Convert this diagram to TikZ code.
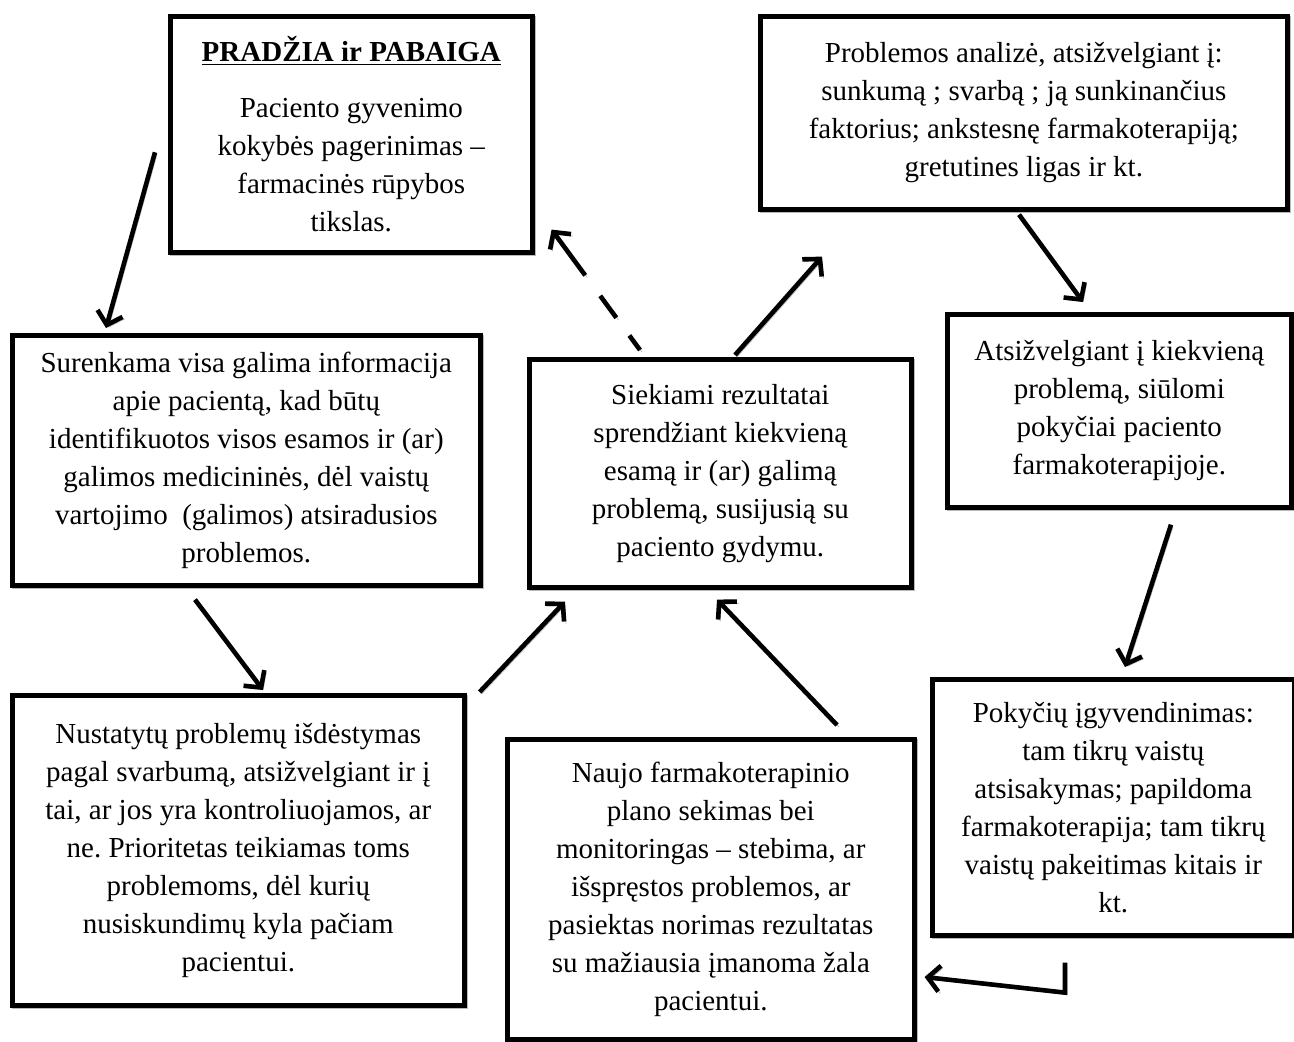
\documentclass[tikz,border=0pt]{standalone}
\usepackage{fontspec}
\setmainfont{Liberation Serif}
\usetikzlibrary{arrows.meta, calc}
\frenchspacing

\begin{document}
\begin{tikzpicture}[
  x=0.5pt, y=-0.5pt,
  box/.style={
    draw=black,
    fill=white,
    line width=2.3pt,
    align=center,
    anchor=north west,
    inner sep=3pt,
    font=\fontsize{14.5pt}{19pt}\selectfont,
    preaction={draw=gray!55, transform canvas={shift={(0.8pt,-0.8pt)}}}
  },
  flow/.style={
    line width=2.3pt,
    -{Straight Barb[length=6pt,width=13pt]},
    preaction={draw=gray!55, transform canvas={shift={(1pt,-1pt)}}}
  },
  dashflow/.style={
    line width=2.3pt,
    dash pattern=on 15.5pt off 11pt,
    dash phase=6.5pt,
    preaction={draw=gray!55, dash pattern=on 15.5pt off 11pt, dash phase=6.5pt,
      transform canvas={shift={(1pt,-1pt)}}}
  }
]
  \useasboundingbox (0,0) rectangle (1294,1041);

  \node[
    box,
    minimum width=181pt,
    minimum height=118pt
  ] (start) at (168,14) {\underline{\textbf{PRADŽIA ir PABAIGA}}\\[9pt]
    Paciento gyvenimo\\ kokybės pagerinimas –\\ farmacinės rūpybos\\ tikslas.};

  \node[
    box,
    minimum width=263.5pt,
    minimum height=96.5pt
  ] (analize) at (758,14) {Problemos analizė, atsižvelgiant į:\\
    sunkumą ; svarbą ; ją sunkinančius\\ faktorius; ankstesnę farmakoterapiją;\\
    gretutines ligas ir kt.};

  \node[
    box,
    minimum width=234pt,
    minimum height=125pt
  ] (surenka) at (10,333) {Surenkama visa galima informacija\\ apie pacientą, kad būtų\\
    identifikuotos visos esamos ir (ar)\\ galimos medicininės, dėl vaistų\\
    vartojimo~ (galimos) atsiradusios\\ problemos.};

  \node[
    box,
    minimum width=191pt,
    minimum height=114pt
  ] (tikslai) at (527,357) {Siekiami rezultatai\\ sprendžiant kiekvieną\\
    esamą ir (ar) galimą\\ problemą, susijusią su\\ paciento gydymu.};

  \node[
    box,
    minimum width=172pt,
    minimum height=96.5pt
  ] (siulymai) at (945,312) {Atsižvelgiant į kiekvieną\\ problemą, siūlomi\\
    pokyčiai paciento\\ farmakoterapijoje.};

  \node[
    box,
    minimum width=226pt,
    minimum height=155pt
  ] (eile) at (10,693) {Nustatytų problemų išdėstymas\\ pagal svarbumą, atsižvelgiant ir į\\
    tai, ar jos yra kontroliuojamos, ar\\ ne. Prioritetas teikiamas toms\\
    problemoms, dėl kurių\\ nusiskundimų kyla pačiam\\ pacientui.};

  \node[
    box,
    minimum width=203.5pt,
    minimum height=150pt
  ] (sekimas) at (505,737) {Naujo farmakoterapinio\\ plano sekimas bei\\
    monitoringas – stebima, ar\\ išspręstos problemos, ar\\
    pasiektas norimas rezultatas\\ su mažiausia įmanoma žala\\ pacientui.};

  \node[
    box,
    minimum width=181pt,
    minimum height=128pt
  ] (pokyciai) at (930,677) {Pokyčių įgyvendinimas:\\ tam tikrų vaistų\\
    atsisakymas; papildoma\\ farmakoterapija; tam tikrų\\
    vaistų pakeitimas kitais ir\\ kt.};

  \coordinate (lenkis) at ([shift={(135,55)}]pokyciai.south west);
  \coordinate (grizta) at ([shift={(113,-7)}]tikslai.north west);
  \coordinate (pabaiga) at ([shift={(17,-25)}]start.south east);

  \draw[flow] ([shift={(-13,18)}]start.west) -- ([shift={(96,-5)}]surenka.north west);
  \draw[flow] ([shift={(185,12)}]surenka.south west) -- ([shift={(253,-3)}]eile.north west);
  \draw[flow] ([shift={(13,-1)}]eile.north east) -- ([shift={(38,12)}]tikslai.south west);
  \draw[flow] ([shift={(332,-12)}]sekimas.north west) -- ([shift={(190,10)}]tikslai.south west);
  \draw[dashflow] (grizta) -- ($(grizta)!0.45!(pabaiga)$);
  \draw[flow] ($(grizta)!0.62!(pabaiga)$) -- (pabaiga);
  \draw[flow] ([shift={(208,-2)}]tikslai.north west) -- ([shift={(64,45)}]analize.south west);
  \draw[flow] ([shift={(261,3)}]analize.south west) -- ([shift={(138,-10)}]siulymai.north west);
  \draw[flow] ([shift={(226,15)}]siulymai.south west) -- ([shift={(195,-10)}]pokyciai.north west);
  \draw[flow] ([shift={(135,25)}]pokyciai.south west) -- (lenkis) -- ([shift={(8,240)}]sekimas.north east);

\end{tikzpicture}
\end{document}
